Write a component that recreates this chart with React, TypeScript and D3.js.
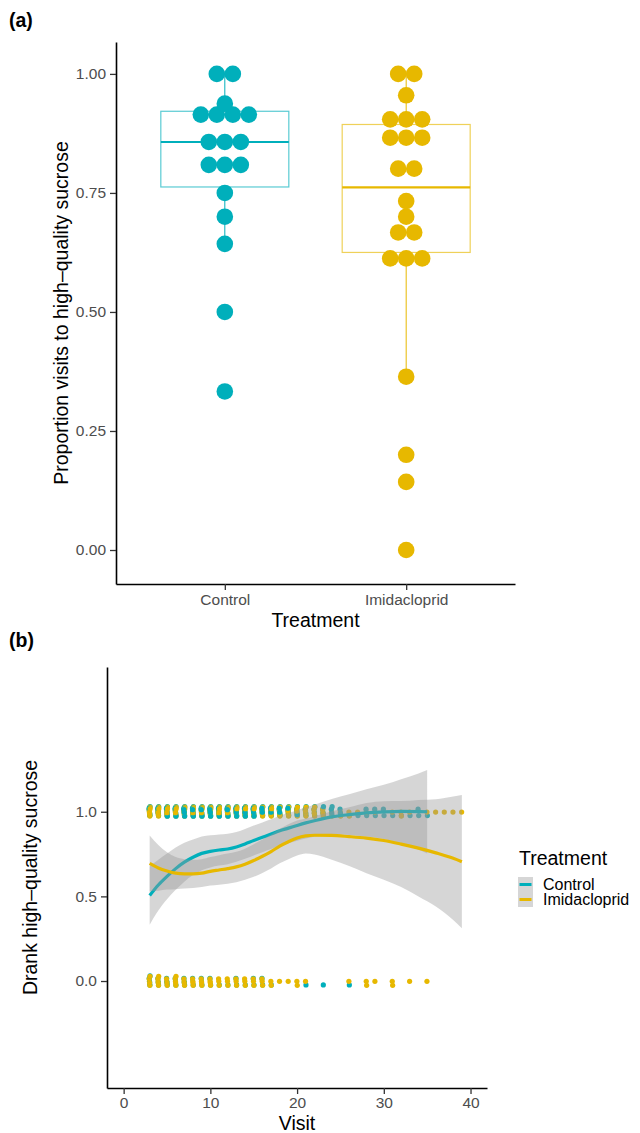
import { useEffect, useRef } from 'react';
import * as d3 from 'd3';

const treatments = ['Control', 'Imidacloprid'];
const colors = ['#00AFBB', '#E7B800'];
const font = 'Liberation Sans, Arial, Helvetica, sans-serif';

// (a) proportion of visits to high-quality sucrose, one value per bee
const controlProp = [1, 1, 0.9375, 0.929, 0.923, 0.917, 0.9, 0.857, 0.857, 0.857, 0.818, 0.813, 0.8, 0.75, 0.7, 0.643, 0.5, 0.333];
const imidProp = [1, 1, 0.955, 0.909, 0.9, 0.9, 0.875, 0.867, 0.857, 0.812, 0.79, 0.733, 0.7, 0.667, 0.667, 0.625, 0.625, 0.6, 0.364, 0.2, 0.143, 0];
const yTicksA = [0, 0.25, 0.5, 0.75, 1];

// (b) number of bees that drank (1) / did not drink (0) high-quality sucrose at each visit
const visits = [3, 4, 5, 6, 7, 8, 9, 10, 11, 12, 13, 14, 15, 16, 17, 18, 19, 20, 21, 22, 23, 24, 25, 26, 27, 28, 29, 30, 31, 32, 33, 34, 35, 36, 37, 38, 39];
const controlDrank = [7, 8, 9, 9, 10, 10, 10, 10, 9, 10, 9, 9, 9, 8, 8, 8, 7, 6, 5, 4, 4, 4, 3, 1, 1, 2, 2, 2, 1, 1, 1, 2, 1, 0, 0, 0, 0];
const controlSkipped = [4, 3, 3, 2, 3, 2, 2, 2, 1, 1, 2, 1, 2, 2, 1, 0, 0, 0, 1, 0, 1, 0, 0, 1, 0, 0, 0, 0, 0, 0, 0, 0, 0, 0, 0, 0, 0];
const imidDrank = [9, 9, 9, 9, 8, 9, 9, 8, 9, 9, 8, 8, 8, 7, 8, 7, 7, 6, 6, 5, 4, 2, 2, 2, 1, 1, 1, 0, 1, 2, 1, 0, 1, 1, 1, 1, 1];
const imidSkipped = [5, 5, 4, 5, 4, 4, 4, 4, 3, 3, 3, 3, 3, 3, 2, 1, 1, 2, 1, 0, 0, 0, 0, 1, 0, 2, 1, 0, 2, 0, 1, 0, 1, 0, 0, 0, 0];

// loess fits with confidence bands
const controlFitVisit = [3, 4, 5, 6, 7, 8, 9, 10, 11, 12, 13, 14, 15, 16, 17, 18, 19, 20, 21, 22, 24, 26, 28, 30, 32, 34, 35];
const controlFit = [0.505, 0.567, 0.618, 0.664, 0.702, 0.731, 0.754, 0.766, 0.774, 0.78, 0.792, 0.81, 0.83, 0.849, 0.868, 0.888, 0.903, 0.919, 0.934, 0.947, 0.97, 0.983, 0.993, 0.999, 1.002, 1.001, 1.0];
const controlLow = [0.333, 0.417, 0.483, 0.539, 0.587, 0.626, 0.654, 0.671, 0.682, 0.69, 0.704, 0.722, 0.742, 0.761, 0.78, 0.8, 0.814, 0.829, 0.842, 0.852, 0.865, 0.863, 0.853, 0.839, 0.812, 0.776, 0.754];
const controlHigh = [0.677, 0.717, 0.753, 0.789, 0.817, 0.836, 0.854, 0.861, 0.866, 0.87, 0.88, 0.898, 0.918, 0.937, 0.956, 0.976, 0.992, 1.009, 1.026, 1.042, 1.075, 1.103, 1.133, 1.159, 1.192, 1.226, 1.246];
const imidFitVisit = [3, 4, 5, 6, 7, 8, 9, 10, 11, 12, 13, 14, 15, 16, 17, 18, 19, 20, 21, 22, 24, 26, 28, 30, 32, 34, 36, 38, 39];
const imidFit = [0.695, 0.668, 0.65, 0.637, 0.633, 0.633, 0.637, 0.648, 0.656, 0.664, 0.674, 0.69, 0.712, 0.737, 0.765, 0.797, 0.823, 0.845, 0.857, 0.861, 0.86, 0.853, 0.844, 0.83, 0.809, 0.785, 0.757, 0.725, 0.705];
const imidLow = [0.53, 0.533, 0.54, 0.542, 0.546, 0.55, 0.555, 0.564, 0.569, 0.575, 0.584, 0.598, 0.616, 0.638, 0.665, 0.695, 0.72, 0.742, 0.754, 0.748, 0.717, 0.68, 0.637, 0.598, 0.555, 0.5, 0.44, 0.36, 0.311];
const imidHigh = [0.86, 0.803, 0.76, 0.732, 0.72, 0.716, 0.719, 0.732, 0.743, 0.753, 0.764, 0.782, 0.808, 0.836, 0.865, 0.899, 0.926, 0.948, 0.96, 0.974, 1.003, 1.026, 1.051, 1.062, 1.063, 1.07, 1.074, 1.09, 1.099];

const yTicksB = [0, 0.5, 1];
const xTicksB = [0, 10, 20, 30, 40];

const App = () => {
  const svgRef = useRef(null);

  useEffect(() => {
    const svg = d3.select(svgRef.current);
    svg.selectAll('*').remove();
    svg.attr('font-family', font);

    const styleAxis = (g) => {
      g.select('.domain').attr('stroke', '#000').attr('stroke-width', 1.6);
      g.selectAll('.tick line').attr('stroke', '#333').attr('stroke-width', 1.3);
      g.selectAll('.tick text')
        .attr('fill', '#4d4d4d')
        .attr('font-size', 15.5)
        .attr('font-family', font);
    };

    // ---------- (a) ----------
    const xA = d3.scalePoint().domain(treatments).range([116, 515]).padding(0.6);
    const yA = d3.scaleLinear().domain([-0.0714, 1.067]).range([584, 42]);
    const boxHalf = 64;
    const binW = 0.03;
    const dotR = 8.3;

    [controlProp, imidProp].forEach((vals, i) => {
      const col = colors[i];
      const cx = xA(treatments[i]);
      const sorted = vals.slice().sort(d3.ascending);
      const q1 = d3.quantileSorted(sorted, 0.25);
      const med = d3.quantileSorted(sorted, 0.5);
      const q3 = d3.quantileSorted(sorted, 0.75);
      const iqr = q3 - q1;
      const hi = d3.max(sorted.filter(v => v <= q3 + 1.5 * iqr));
      const lo = d3.min(sorted.filter(v => v >= q1 - 1.5 * iqr));
      const g = svg.append('g');

      g.append('line')
        .attr('x1', cx).attr('x2', cx)
        .attr('y1', yA(q3)).attr('y2', yA(hi))
        .attr('stroke', col).attr('stroke-width', 1);
      g.append('line')
        .attr('x1', cx).attr('x2', cx)
        .attr('y1', yA(q1)).attr('y2', yA(lo))
        .attr('stroke', col).attr('stroke-width', 1);
      g.append('rect')
        .attr('x', cx - boxHalf).attr('y', yA(q3))
        .attr('width', boxHalf * 2).attr('height', yA(q1) - yA(q3))
        .attr('fill', 'none').attr('stroke', col)
        .attr('stroke-opacity', 0.65).attr('stroke-width', 1.2);
      g.append('line')
        .attr('x1', cx - boxHalf).attr('x2', cx + boxHalf)
        .attr('y1', yA(med)).attr('y2', yA(med))
        .attr('stroke', col).attr('stroke-width', 2.2);

      // dot-density binning, dots stacked centred across
      const bins = [];
      sorted.forEach(v => {
        const last = bins[bins.length - 1];
        if (last && v < last.start + binW) last.vals.push(v);
        else bins.push({ start: v, vals: [v] });
      });
      bins.forEach(b => {
        const c = (b.start + d3.max(b.vals)) / 2;
        const k = b.vals.length;
        b.vals.forEach((v, j) => {
          g.append('circle')
            .attr('cx', cx + (j - (k - 1) / 2) * 16)
            .attr('cy', yA(c))
            .attr('r', dotR)
            .attr('fill', col);
        });
      });
    });

    svg.append('g')
      .attr('transform', 'translate(116,0)')
      .call(d3.axisLeft(yA).tickValues(yTicksA).tickFormat(d3.format('.2f')).tickSize(6).tickPadding(4).tickSizeOuter(0))
      .call(styleAxis);
    svg.append('g')
      .attr('transform', 'translate(0,584)')
      .call(d3.axisBottom(xA).tickSize(6).tickPadding(4).tickSizeOuter(0))
      .call(styleAxis);

    svg.append('text')
      .attr('x', 315.5).attr('y', 627)
      .attr('text-anchor', 'middle').attr('font-size', 19.5)
      .text('Treatment');
    svg.append('text')
      .attr('transform', 'translate(68,313) rotate(-90)')
      .attr('text-anchor', 'middle').attr('font-size', 19.5)
      .text('Proportion visits to high–quality sucrose');
    svg.append('text')
      .attr('x', 9).attr('y', 27)
      .attr('font-size', 19.5).attr('font-weight', 'bold')
      .text('(a)');

    // ---------- (b) ----------
    const xB = d3.scaleLinear().domain([-1.92, 41.9]).range([107, 487]);
    const yB = d3.scaleLinear().domain([-0.632, 1.855]).range([1088, 667]);
    const jitH = 0.031;
    const pts = svg.append('g');

    visits.forEach((v, i) => {
      [[1, controlDrank[i], imidDrank[i]], [0, controlSkipped[i], imidSkipped[i]]].forEach(([val, nc, ni]) => {
        const n = Math.max(nc, ni);
        for (let j = 0; j < n; j++) {
          if (j < nc) {
            const fy = (((j * 0.618034 + 0.13) % 1) - 0.5) * 2 * jitH;
            const fx = (((j * 0.381966 + 0.71) % 1) - 0.5) * 0.12;
            pts.append('circle')
              .attr('cx', xB(v + fx)).attr('cy', yB(val + fy))
              .attr('r', 2.6).attr('fill', colors[0]);
          }
          if (j < ni) {
            const fy = (((j * 0.618034 + 0.47) % 1) - 0.5) * 2 * jitH;
            const fx = (((j * 0.381966 + 0.29) % 1) - 0.5) * 0.12;
            pts.append('circle')
              .attr('cx', xB(v + fx)).attr('cy', yB(val + fy))
              .attr('r', 2.6).attr('fill', colors[1]);
          }
        }
      });
    });

    const fits = [
      { vis: controlFitVisit, fit: controlFit, lo: controlLow, hi: controlHigh },
      { vis: imidFitVisit, fit: imidFit, lo: imidLow, hi: imidHigh },
    ];
    fits.forEach((f, i) => {
      const rows = f.vis.map((v, k) => ({ v, fit: f.fit[k], lo: f.lo[k], hi: f.hi[k] }));
      svg.append('path')
        .datum(rows)
        .attr('d', d3.area().x(d => xB(d.v)).y0(d => yB(d.lo)).y1(d => yB(d.hi)).curve(d3.curveMonotoneX))
        .attr('fill', '#999999').attr('fill-opacity', 0.4);
      svg.append('path')
        .datum(rows)
        .attr('d', d3.line().x(d => xB(d.v)).y(d => yB(d.fit)).curve(d3.curveMonotoneX))
        .attr('fill', 'none').attr('stroke', colors[i]).attr('stroke-width', 3.2);
    });

    svg.append('g')
      .attr('transform', 'translate(107,0)')
      .call(d3.axisLeft(yB).tickValues(yTicksB).tickFormat(d3.format('.1f')).tickSize(6).tickPadding(4).tickSizeOuter(0))
      .call(styleAxis);
    svg.append('g')
      .attr('transform', 'translate(0,1088)')
      .call(d3.axisBottom(xB).tickValues(xTicksB).tickSize(6).tickPadding(3).tickSizeOuter(0))
      .call(styleAxis);

    svg.append('text')
      .attr('x', 297).attr('y', 1130)
      .attr('text-anchor', 'middle').attr('font-size', 19.5)
      .text('Visit');
    svg.append('text')
      .attr('transform', 'translate(37,877.5) rotate(-90)')
      .attr('text-anchor', 'middle').attr('font-size', 19.5)
      .text('Drank high–quality sucrose');
    svg.append('text')
      .attr('x', 9).attr('y', 647)
      .attr('font-size', 19.5).attr('font-weight', 'bold')
      .text('(b)');

    // legend
    const lg = svg.append('g');
    lg.append('text')
      .attr('x', 519).attr('y', 865)
      .attr('font-size', 19.5)
      .text('Treatment');
    treatments.forEach((t, i) => {
      const y = 877 + i * 15;
      lg.append('rect')
        .attr('x', 518).attr('y', y)
        .attr('width', 15).attr('height', 15)
        .attr('fill', '#999999').attr('fill-opacity', 0.4);
      lg.append('line')
        .attr('x1', 519.5).attr('x2', 531.5)
        .attr('y1', y + 7.5).attr('y2', y + 7.5)
        .attr('stroke', colors[i]).attr('stroke-width', 3);
      lg.append('text')
        .attr('x', 543).attr('y', y + 13)
        .attr('font-size', 16)
        .text(t);
    });
  }, []);

  return (
    <svg ref={svgRef} width={640} height={1133} style={{ position: 'absolute', left: 0, top: 0 }}></svg>
  );
};

export default App;
